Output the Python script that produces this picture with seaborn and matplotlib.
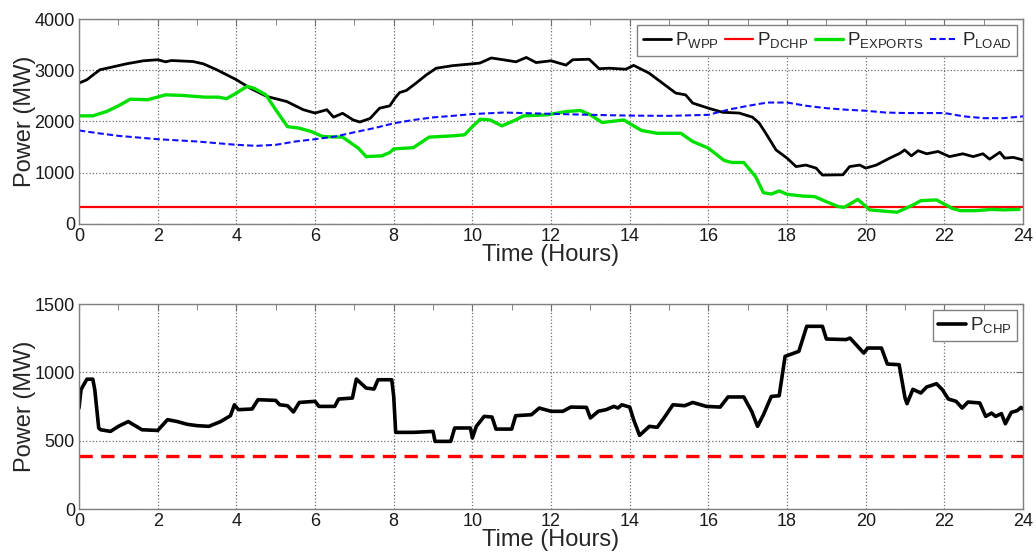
import numpy as np
import pandas as pd
import seaborn as sns
import matplotlib.pyplot as plt
from matplotlib.ticker import MultipleLocator

# ---- data ----
wpp_h = [0, 0.2, 0.36, 0.53, 0.8, 1.2, 1.64, 2.0, 2.2, 2.35, 2.9, 3.16, 3.5, 4.0, 4.35, 4.77,
         5.28, 5.7, 6.0, 6.3, 6.47, 6.7, 6.97, 7.14, 7.4, 7.64, 7.9, 8.03, 8.15, 8.32, 8.57,
         8.83, 9.08, 9.5, 10.0, 10.19, 10.48, 10.78, 11.11, 11.37, 11.62, 12.0, 12.38, 12.55,
         12.97, 13.22, 13.48, 13.9, 14.1, 14.49, 14.83, 15.17, 15.42, 15.6, 16.0, 16.36, 16.78,
         17.12, 17.29, 17.46, 17.72, 18.0, 18.23, 18.48, 18.74, 18.9, 19.42, 19.59, 19.85, 20.0,
         20.27, 20.61, 20.87, 20.99, 21.16, 21.33, 21.55, 21.84, 22.13, 22.47, 22.73, 22.98,
         23.15, 23.41, 23.53, 23.75, 24.0]
wpp_mw = [2750, 2815, 2910, 3010, 3055, 3125, 3185, 3205, 3165, 3190, 3170, 3125, 3010, 2815,
          2650, 2490, 2390, 2230, 2165, 2230, 2085, 2160, 2030, 1990, 2060, 2260, 2305, 2455,
          2565, 2605, 2750, 2910, 3040, 3090, 3125, 3140, 3240, 3205, 3165, 3250, 3150, 3185,
          3100, 3205, 3215, 3030, 3040, 3020, 3095, 2945, 2750, 2555, 2520, 2360, 2260, 2180,
          2165, 2085, 1970, 1770, 1445, 1285, 1120, 1150, 1090, 955, 960, 1120, 1150, 1090,
          1150, 1285, 1380, 1445, 1330, 1430, 1370, 1415, 1315, 1370, 1315, 1370, 1265, 1400,
          1285, 1300, 1250]

dchp_h = [0, 24]
dchp_mw = [340, 340]

exp_h = [0, 0.35, 0.7, 1.0, 1.3, 1.75, 2.2, 2.6, 3.2, 3.55, 3.75, 4.0, 4.27, 4.45, 4.75, 5.0,
         5.3, 5.6, 5.9, 6.2, 6.7, 7.1, 7.3, 7.7, 7.9, 8.0, 8.5, 8.9, 9.5, 9.8, 10.0, 10.2,
         10.45, 10.75, 11.1, 11.3, 11.9, 12.4, 12.75, 13.0, 13.3, 13.85, 14.1, 14.3, 14.7,
         15.3, 15.6, 16.0, 16.4, 16.6, 16.9, 17.2, 17.4, 17.6, 17.8, 18.0, 18.4, 18.7, 19.0,
         19.3, 19.45, 19.8, 20.1, 20.4, 20.8, 21.2, 21.4, 21.8, 22.2, 22.4, 22.8, 23.2, 23.5,
         23.9]
exp_mw = [2110, 2110, 2195, 2305, 2435, 2425, 2520, 2510, 2475, 2475, 2445, 2555, 2685, 2650,
          2520, 2230, 1900, 1870, 1805, 1705, 1695, 1480, 1315, 1330, 1395, 1465, 1490, 1695,
          1720, 1740, 1900, 2045, 2030, 1915, 2030, 2110, 2130, 2195, 2215, 2130, 1980, 2030,
          1915, 1825, 1770, 1770, 1610, 1480, 1240, 1200, 1200, 925, 610, 585, 645, 580, 545,
          535, 435, 340, 325, 480, 275, 255, 230, 370, 455, 470, 305, 260, 260, 285, 275, 285]

load_h = [0, 0.5, 1, 2, 3, 4, 4.5, 5, 5.5, 6, 6.5, 7, 7.5, 8, 8.5, 9, 9.5, 10, 10.8, 11.5, 12,
          13, 14, 15, 16, 16.5, 17, 17.5, 18, 18.5, 19, 19.5, 20, 20.5, 21, 22, 22.5, 23,
          23.5, 24]
load_mw = [1825, 1770, 1720, 1655, 1610, 1545, 1525, 1545, 1610, 1655, 1705, 1790, 1870, 1965,
           2030, 2080, 2110, 2145, 2175, 2160, 2150, 2130, 2115, 2110, 2130, 2230, 2305, 2370,
           2370, 2305, 2260, 2230, 2210, 2175, 2165, 2165, 2100, 2065, 2065, 2100]

chp_h = [0, 0.05, 0.1, 0.2, 0.35, 0.4, 0.5, 0.55, 0.8, 1.0, 1.25, 1.6, 2.0, 2.25, 2.5, 2.75,
         3.0, 3.3, 3.6, 3.85, 3.95, 4.05, 4.4, 4.55, 5.0, 5.1, 5.3, 5.45, 5.6, 6.0, 6.1, 6.5,
         6.6, 6.95, 7.05, 7.3, 7.5, 7.6, 7.95, 8.0, 8.05, 8.5, 9.0, 9.05, 9.45, 9.55, 9.95,
         10.0, 10.1, 10.3, 10.5, 10.6, 11.0, 11.1, 11.5, 11.7, 12.0, 12.3, 12.5, 12.9, 13.0,
         13.2, 13.4, 13.6, 13.7, 13.8, 14.0, 14.1, 14.25, 14.5, 14.7, 14.9, 15.1, 15.4, 15.6,
         15.95, 16.3, 16.5, 16.9, 17.1, 17.25, 17.4, 17.6, 17.8, 17.95, 18.3, 18.5, 18.9,
         19.0, 19.5, 19.6, 19.7, 19.95, 20.05, 20.4, 20.55, 20.85, 21.0, 21.05, 21.2, 21.4,
         21.55, 21.8, 21.95, 22.1, 22.3, 22.45, 22.6, 22.9, 23.05, 23.2, 23.3, 23.45, 23.55,
         23.7, 23.85, 23.95, 24.0]
chp_mw = [740, 873, 900, 950, 950, 873, 593, 580, 568, 605, 640, 580, 575, 654, 640, 620, 610,
          605, 640, 683, 763, 727, 732, 800, 795, 763, 756, 710, 780, 788, 751, 751, 805, 812,
          951, 885, 878, 946, 946, 824, 561, 561, 568, 495, 495, 593, 593, 520, 605, 678, 673,
          585, 585, 683, 690, 739, 715, 715, 746, 744, 666, 715, 727, 751, 739, 763, 746, 654,
          539, 605, 598, 678, 763, 756, 780, 751, 746, 820, 820, 715, 605, 690, 824, 829, 1117,
          1154, 1337, 1337, 1244, 1240, 1251, 1220, 1141, 1178, 1178, 1061, 1056, 812, 771,
          876, 849, 893, 917, 873, 805, 788, 739, 783, 776, 678, 702, 678, 698, 624, 707, 720,
          744, 732]

chp_min_h = [0, 24]
chp_min_mw = [390, 390]

sns.set_style("white")
plt.rcParams['font.family'] = ['Liberation Sans', 'DejaVu Sans']
plt.rcParams['mathtext.default'] = 'regular'

fig = plt.figure(figsize=(10.36, 5.59), dpi=100)
ax1 = fig.add_axes([0.0763, 0.5993, 0.9112, 0.3667])
ax2 = fig.add_axes([0.0763, 0.0894, 0.9112, 0.3667])

sns.lineplot(x=wpp_h, y=wpp_mw, ax=ax1, color='black', lw=2.0, label=r'P$_{WPP}$')
sns.lineplot(x=dchp_h, y=dchp_mw, ax=ax1, color='#ff0000', lw=1.6, label=r'P$_{DCHP}$')
sns.lineplot(x=exp_h, y=exp_mw, ax=ax1, color='#00e000', lw=2.4, label=r'P$_{EXPORTS}$')
sns.lineplot(x=load_h, y=load_mw, ax=ax1, color='#1010ff', lw=1.5, ls=(0, (3, 1.5)),
             label=r'P$_{LOAD}$')

sns.lineplot(x=chp_h, y=chp_mw, ax=ax2, color='black', lw=2.6, label=r'P$_{CHP}$')
sns.lineplot(x=chp_min_h, y=chp_min_mw, ax=ax2, color='#ff0000', lw=2.4, ls=(0, (4, 2.5)),
             legend=False)

for ax, top, step in [(ax1, 4000, 1000), (ax2, 1500, 500)]:
    ax.set_xlim(0, 24)
    ax.set_ylim(0, top)
    ax.xaxis.set_major_locator(MultipleLocator(2))
    ax.xaxis.set_minor_locator(MultipleLocator(1))
    ax.yaxis.set_major_locator(MultipleLocator(step))
    ax.grid(True, which='major', ls=':', color='#707070', lw=0.9)
    ax.tick_params(which='both', direction='in', top=True, right=True, color='#707070',
                   labelsize=13, labelcolor='#1a1a1a', pad=3)
    ax.tick_params(which='major', length=5)
    ax.tick_params(which='minor', length=4)
    for s in ax.spines.values():
        s.set_color('#808080')
        s.set_linewidth(1.0)
    ax.set_xlabel('Time (Hours)', fontsize=17, labelpad=-1)
    ax.set_ylabel('Power (MW)', fontsize=17)
    ax.yaxis.set_label_coords(-0.046, 0.5)

leg1 = ax1.legend(loc='upper right', ncol=4, fontsize=13.5, fancybox=False, framealpha=1,
                  edgecolor='#808080', handlelength=1.5, handletextpad=0.2,
                  columnspacing=0.35, borderaxespad=0.3, borderpad=0.3)
leg2 = ax2.legend(loc='upper right', fontsize=13.5, fancybox=False, framealpha=1,
                  edgecolor='#808080', handlelength=1.5, handletextpad=0.2,
                  borderaxespad=0.3, borderpad=0.3)

fig.savefig('out.png', dpi=100)
